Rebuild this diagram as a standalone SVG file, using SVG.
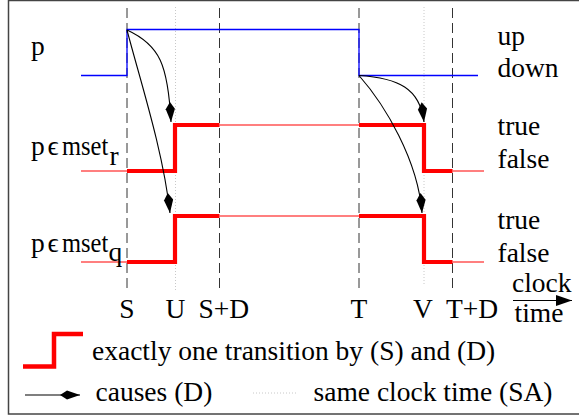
<svg xmlns="http://www.w3.org/2000/svg" width="579" height="416" viewBox="0 0 579 416">
<defs>
<style>
.t{font-family:'Liberation Serif','Times New Roman','DejaVu Serif',serif;font-size:27.5px;fill:#000}
.dash{stroke:#333;stroke-width:1;stroke-dasharray:10 5;fill:none}
.dot{stroke:#c8c8c8;stroke-width:1;stroke-dasharray:1 2;fill:none}
.blue{stroke:#0000ff;stroke-width:1.3;fill:none}
.thin{stroke:#ff0000;stroke-width:1.1;fill:none}
.thick{stroke:#ff0000;stroke-width:4.2;fill:none}
.cause{stroke:#000;stroke-width:1.1;fill:none;marker-end:url(#kite)}
</style>
<marker id="kite" markerUnits="userSpaceOnUse" markerWidth="24" markerHeight="12" viewBox="-21 -6 24 12" refX="0" refY="0" orient="auto">
<path d="M0,0 L-13,-4.6 L-20,0 L-13,4.6 Z" fill="#000"/>
</marker>
<marker id="tri" markerUnits="userSpaceOnUse" markerWidth="20" markerHeight="14" viewBox="-17 -7 20 14" refX="0" refY="0" orient="auto">
<path d="M0,0 L-16,-5.5 L-16,5.5 Z" fill="#000"/>
</marker>
</defs>
<rect id="frame" x="8.5" y="0.5" width="580" height="413.5" fill="#fff" stroke="#444" stroke-width="1.5"/>
<g id="grid">
<line class="dash" x1="127" y1="8" x2="127" y2="288"/>
<line class="dash" x1="219.5" y1="8" x2="219.5" y2="288"/>
<line class="dash" x1="359" y1="8" x2="359" y2="288"/>
<line class="dash" x1="452.5" y1="8" x2="452.5" y2="288"/>
<line class="dot" x1="175.5" y1="7" x2="175.5" y2="290"/>
<line class="dot" x1="424" y1="7" x2="424" y2="284"/>
</g>
<g id="signal-p">
<path class="blue" d="M81,75.5 H127 V29.5 H359 V75.5 H478"/>
</g>
<g id="signal-r">
<path class="thin" d="M81,171 H127 M219.5,125 H359 M452.5,171 H484"/>
<path class="thick" d="M127,171 H175 V125 H219.5 M359,125 H424 V171 H452.5"/>
</g>
<g id="signal-q">
<path class="thin" d="M81,262 H127 M219.5,216 H359 M452.5,262 H484"/>
<path class="thick" d="M127,262 H175 V216 H219.5 M359,216 H424 V262 H452.5"/>
</g>
<g id="connectors">
<path class="cause" d="M127,30 C160,45 168,65 171,122"/>
<path class="cause" d="M127,30 C140,80 163,150 170,213"/>
<path class="cause" d="M359,75.5 C398,78 420,88 424,122"/>
<path class="cause" d="M359,75.5 C385,105 418,160 422,213"/>
</g>
<g id="label-p">
<text class="t" x="31" y="55">p</text>
</g>
<g id="label-r">
<text class="t" x="31" y="155">p</text>
<text class="t" x="47.5" y="155">ϵ</text>
<text class="t" transform="translate(62,155) scale(0.89,1)">mset</text>
<text class="t" x="109.5" y="165">r</text>
</g>
<g id="label-q">
<text class="t" x="31" y="252">p</text>
<text class="t" x="47.5" y="252">ϵ</text>
<text class="t" transform="translate(62,252) scale(0.89,1)">mset</text>
<text class="t" x="108.5" y="261">q</text>
</g>
<g id="labels">
<text class="t" x="497.5" y="45">up</text>
<text class="t" x="497.5" y="77">down</text>
<text class="t" x="497.5" y="135">true</text>
<text class="t" x="497.5" y="168">false</text>
<text class="t" x="497.5" y="229">true</text>
<text class="t" x="497.5" y="262">false</text>
<text class="t" x="127" y="318" text-anchor="middle">S</text>
<text class="t" x="175.5" y="318" text-anchor="middle">U</text>
<text class="t" x="198.5" y="318">S+D</text>
<text class="t" x="359" y="318" text-anchor="middle">T</text>
<text class="t" x="423" y="318" text-anchor="middle">V</text>
<text class="t" x="446" y="318">T+D</text>
<text class="t" x="512" y="292">clock</text>
<text class="t" x="514.5" y="322">time</text>
<line x1="513" y1="300.5" x2="572" y2="300.5" stroke="#000" stroke-width="1.2" marker-end="url(#tri)"/>
</g>
<g id="legend">
<path d="M23,366.5 H54 V334 H83" stroke="#ff0000" stroke-width="4.5" fill="none"/>
<text class="t" x="92" y="360">exactly one transition by (S) and (D)</text>
<line x1="25" y1="395" x2="80" y2="395" stroke="#000" stroke-width="1.1" marker-end="url(#kite)"/>
<text class="t" x="95.5" y="401">causes (D)</text>
<line class="dot" x1="253" y1="393" x2="297" y2="393"/>
<text class="t" x="313.5" y="401">same clock time (SA)</text>
</g>
</svg>
